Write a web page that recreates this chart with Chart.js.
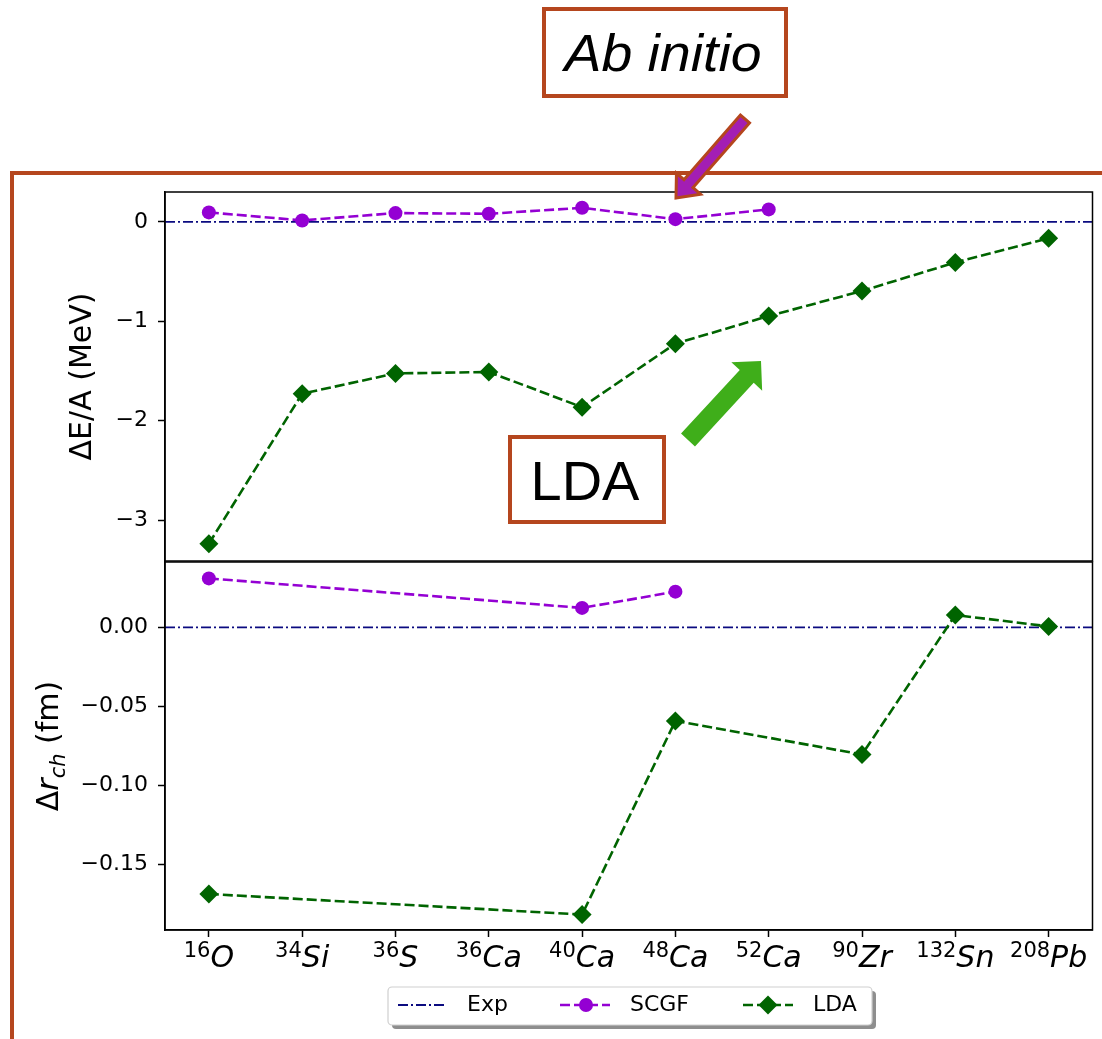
<!DOCTYPE html>
<html><head><meta charset="utf-8">
<script src="https://cdn.jsdelivr.net/npm/chart.js@4/dist/chart.umd.min.js"></script>
<style>
html,body{margin:0;padding:0;background:#fff;}
#wrap{position:relative;width:1102px;height:1039px;overflow:hidden;}
canvas{position:absolute;left:0;top:0;}
</style></head><body>
<div id="wrap"><canvas id="cBot" width="1102" height="1039"></canvas><canvas id="cTop" width="1102" height="1039"></canvas></div>
<script>
// ---------- data ----------
const massNumbers = ['16','34','36','36','40','48','52','90','132','208'];
const elements    = ['O','Si','S','Ca','Ca','Ca','Ca','Zr','Sn','Pb'];
const scgfEnergy  = [0.095, 0.014, 0.088, 0.081, 0.141, 0.027, 0.125, null, null, null];
const ldaEnergy   = [-3.236, -1.728, -1.524, -1.510, -1.863, -1.225, -0.947, -0.695, -0.409, -0.164];
const scgfRadius  = [0.031, null, null, null, 0.0123, 0.0226, null, null, null, null];
const ldaRadius   = [-0.169, null, null, null, -0.182, -0.0593, null, -0.0806, 0.0078, 0.0006];
const expValue    = 0;
const energyTicks = [-3, -2, -1, 0];
const radiusTicks = [-0.15, -0.10, -0.05, 0];
const legendLabels = ['Exp', 'SCGF', 'LDA'];
const energyTitle = 'ΔE/A (MeV)';
const boxLabels = ['Ab initio', 'LDA'];

// ---------- style ----------
const X_MIN = -0.47, X_MAX = 9.47;
const C_EXP = '#0b0b80', C_SCGF = '#9400d3', C_LDA = '#006400';
const BROWN = '#b5461e';
const FONT = '"DejaVu Sans", sans-serif';
const EXP_DASH = [10,3,2,3], DASH = [10,4];
Chart.defaults.font.family = FONT;
Chart.defaults.color = '#000';

function pts(arr){ const o=[]; arr.forEach((v,i)=>{ if(v!==null) o.push({x:i,y:v}); }); return o; }
function fmt(dec){ return v => (v < 0 ? '\u2212' : '') + Math.abs(v).toFixed(dec); }

function makeDatasets(scgf, lda){
  return [
    {label:legendLabels[0], data:[{x:X_MIN,y:expValue},{x:X_MAX,y:expValue}], borderColor:C_EXP, borderWidth:1.8,
     borderDash:EXP_DASH, pointRadius:0, order:3, tension:0},
    {label:legendLabels[1], data:pts(scgf), borderColor:C_SCGF, backgroundColor:C_SCGF, borderWidth:2.6,
     borderDash:DASH, pointStyle:'circle', pointRadius:7, pointBorderWidth:0, order:2, tension:0},
    {label:legendLabels[2], data:pts(lda), borderColor:C_LDA, backgroundColor:C_LDA, borderWidth:2.6,
     borderDash:DASH, pointStyle:'rectRot', pointRadius:9.5, pointBorderWidth:0, order:1, tension:0}
  ];
}

function yAxis(min, max, ticks, dec){
  return {
    type:'linear', position:'left', min:min, max:max,
    afterBuildTicks: s => { s.ticks = ticks.map(v=>({value:v})); },
    afterFit: s => { s.width = 165; },
    ticks:{ callback: fmt(dec), font:{size:22, family:FONT}, color:'#000', padding:10 },
    grid:{ display:true, drawOnChartArea:false, drawTicks:true, tickLength:7, tickWidth:1.5, tickColor:'#000' },
    border:{ display:true, color:'#000', width:1.5 }
  };
}

const boxPlugin = {
  id:'boxPlugin',
  afterDraw(chart){
    const a = chart.chartArea, ctx = chart.ctx;
    ctx.save(); ctx.strokeStyle='#000'; ctx.lineWidth=1.5;
    ctx.strokeRect(a.left, a.top, a.right-a.left, a.bottom-a.top);
    ctx.restore();
  }
};

function drawArrow(ctx, tx, ty, hx, hy, sw, hw, hl, fill, stroke, lw){
  const dx=hx-tx, dy=hy-ty, L=Math.hypot(dx,dy), ux=dx/L, uy=dy/L, nx=-uy, ny=ux;
  const bx=hx-ux*hl, by=hy-uy*hl;
  ctx.beginPath();
  ctx.moveTo(tx+nx*sw/2, ty+ny*sw/2);
  ctx.lineTo(bx+nx*sw/2, by+ny*sw/2);
  ctx.lineTo(bx+nx*hw/2, by+ny*hw/2);
  ctx.lineTo(hx, hy);
  ctx.lineTo(bx-nx*hw/2, by-ny*hw/2);
  ctx.lineTo(bx-nx*sw/2, by-ny*sw/2);
  ctx.lineTo(tx-nx*sw/2, ty-ny*sw/2);
  ctx.closePath();
  ctx.fillStyle=fill; ctx.fill();
  if(stroke){ ctx.strokeStyle=stroke; ctx.lineWidth=lw; ctx.lineJoin='miter'; ctx.stroke(); }
}

const topDeco = {
  id:'topDeco',
  afterDraw(chart){
    const ctx = chart.ctx, a = chart.chartArea;
    ctx.save();
    // y title
    ctx.save();
    ctx.translate(91, (a.top+a.bottom)/2); ctx.rotate(-Math.PI/2);
    ctx.font = '30px '+FONT; ctx.fillStyle='#000'; ctx.textAlign='center'; ctx.textBaseline='alphabetic';
    ctx.fillText(energyTitle, 0, 0);
    ctx.restore();
    // brown frame
    ctx.strokeStyle=BROWN; ctx.lineWidth=4; ctx.lineCap='butt';
    ctx.beginPath(); ctx.moveTo(12,1039); ctx.lineTo(12,173); ctx.lineTo(1102,173); ctx.stroke();
    // Ab initio box
    ctx.fillStyle='#fff'; ctx.fillRect(544,9,242,87);
    ctx.lineWidth=4; ctx.strokeStyle=BROWN; ctx.strokeRect(544,9,242,87);
    ctx.save();
    ctx.font='italic 52px "Liberation Sans", Arial, sans-serif'; ctx.fillStyle='#000';
    const w = ctx.measureText(boxLabels[0]).width;
    const sc = 197 / w;
    ctx.translate(663, 71); ctx.scale(sc, 1);
    ctx.textAlign='center'; ctx.fillText(boxLabels[0], 0, 0);
    ctx.restore();
    // purple arrow
    drawArrow(ctx, 745,119, 676,198, 12, 32, 19, '#a31eb4', BROWN, 3);
    // green arrow
    drawArrow(ctx, 688,440, 761,361, 19, 42, 21, '#3fae1a', null, 0);
    // LDA box
    ctx.fillStyle='#fff'; ctx.fillRect(510,437,154,85);
    ctx.strokeStyle=BROWN; ctx.lineWidth=4; ctx.strokeRect(510,437,154,85);
    ctx.font='56px "Liberation Sans", Arial, sans-serif'; ctx.fillStyle='#000'; ctx.textAlign='center';
    ctx.fillText(boxLabels[1], 585, 500);
    ctx.restore();
  }
};

const botDeco = {
  id:'botDeco',
  afterDraw(chart){
    const ctx = chart.ctx, a = chart.chartArea, xs = chart.scales.x;
    ctx.save();
    ctx.fillStyle='#000'; ctx.textBaseline='alphabetic'; ctx.textAlign='left';
    // x tick labels: superscript mass number + italic element
    massNumbers.forEach((m,i)=>{
      const px = xs.getPixelForValue(i);
      ctx.font='21px '+FONT; const w1 = ctx.measureText(m).width;
      ctx.font='italic 30px '+FONT; const w2 = ctx.measureText(elements[i]).width;
      const left = px - (w1+w2)/2;
      ctx.font='21px '+FONT; ctx.fillText(m, left, a.bottom+27);
      ctx.font='italic 30px '+FONT; ctx.fillText(elements[i], left+w1, a.bottom+37);
    });
    // y title with subscript
    ctx.save();
    ctx.translate(58, (a.top+a.bottom)/2); ctx.rotate(-Math.PI/2);
    const parts = [['Δ','30px '+FONT,0],['r','italic 30px '+FONT,0],['ch','italic 21px '+FONT,7],[' (fm)','30px '+FONT,0]];
    let tot=0; parts.forEach(p=>{ ctx.font=p[1]; p.w=ctx.measureText(p[0]).width; tot+=p.w; });
    let x=-tot/2;
    parts.forEach(p=>{ ctx.font=p[1]; ctx.fillText(p[0], x, p[2]); x+=p.w; });
    ctx.restore();
    // legend
    ctx.fillStyle='#8e8e8e';
    ctx.beginPath(); ctx.roundRect(392,991,484,38,4); ctx.fill();
    ctx.fillStyle='#fff'; ctx.strokeStyle='#cfcfcf'; ctx.lineWidth=1.2;
    ctx.beginPath(); ctx.roundRect(388,987,484,38,4); ctx.fill(); ctx.stroke();
    const ly = 1005;
    // Exp
    ctx.strokeStyle=C_EXP; ctx.lineWidth=1.8; ctx.setLineDash(EXP_DASH);
    ctx.beginPath(); ctx.moveTo(398,ly); ctx.lineTo(447,ly); ctx.stroke();
    // SCGF
    ctx.strokeStyle=C_SCGF; ctx.lineWidth=2.6; ctx.setLineDash(DASH);
    ctx.beginPath(); ctx.moveTo(560,ly); ctx.lineTo(610,ly); ctx.stroke();
    ctx.setLineDash([]); ctx.fillStyle=C_SCGF;
    ctx.beginPath(); ctx.arc(586,ly,7,0,Math.PI*2); ctx.fill();
    // LDA
    ctx.strokeStyle=C_LDA; ctx.setLineDash(DASH);
    ctx.beginPath(); ctx.moveTo(743,ly); ctx.lineTo(793,ly); ctx.stroke();
    ctx.setLineDash([]); ctx.fillStyle=C_LDA;
    const r=9.5; ctx.beginPath(); ctx.moveTo(768-r,ly); ctx.lineTo(768,ly-r); ctx.lineTo(768+r,ly); ctx.lineTo(768,ly+r); ctx.closePath(); ctx.fill();
    ctx.fillStyle='#000'; ctx.font='22px '+FONT; ctx.textBaseline='middle';
    ctx.fillText(legendLabels[0], 467, ly);
    ctx.fillText(legendLabels[1], 630, ly);
    ctx.fillText(legendLabels[2], 813, ly);
    ctx.restore();
  }
};

const common = {
  responsive:false, animation:false, events:[],
  plugins:{ legend:{display:false}, tooltip:{enabled:false} }
};

new Chart(document.getElementById('cTop'), {
  type:'line',
  data:{ datasets: makeDatasets(scgfEnergy, ldaEnergy) },
  options: Object.assign({}, common, {
    layout:{ padding:{ left:0, right:7, top:192, bottom:478 } },
    scales:{
      x:{ type:'linear', min:X_MIN, max:X_MAX, display:false },
      y: yAxis(-3.41, 0.30, energyTicks, 0)
    }
  }),
  plugins:[boxPlugin, topDeco]
});

new Chart(document.getElementById('cBot'), {
  type:'line',
  data:{ datasets: makeDatasets(scgfRadius, ldaRadius) },
  options: Object.assign({}, common, {
    layout:{ padding:{ left:0, right:7, top:562, bottom:49 } },
    scales:{
      x:{ type:'linear', min:X_MIN, max:X_MAX, position:'bottom',
          afterBuildTicks: s => { s.ticks = massNumbers.map((m,i)=>({value:i})); },
          afterFit: s => { s.height = 60; },
          ticks:{ display:false },
          grid:{ display:true, drawOnChartArea:false, drawTicks:true, tickLength:7, tickWidth:1.5, tickColor:'#000' },
          border:{ display:true, color:'#000', width:1.5 } },
      y: yAxis(-0.1918, 0.0414, radiusTicks, 2)
    }
  }),
  plugins:[boxPlugin, botDeco]
});
</script>
</body></html>
